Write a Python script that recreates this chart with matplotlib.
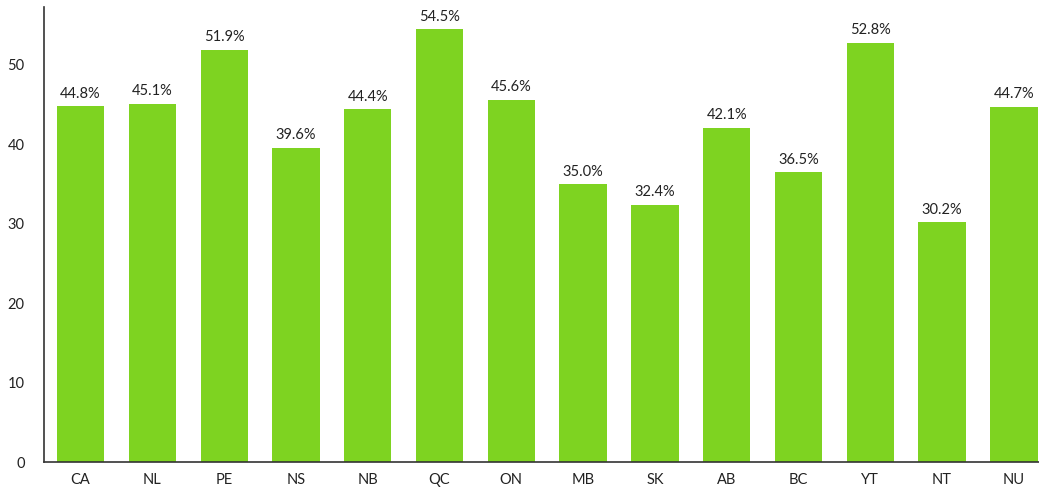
import matplotlib
matplotlib.use("Agg")
import matplotlib.pyplot as plt

categories = ["CA", "NL", "PE", "NS", "NB", "QC", "ON", "MB", "SK", "AB", "BC", "YT", "NT", "NU"]
values = [44.8, 45.1, 51.9, 39.6, 44.4, 54.5, 45.6, 35.0, 32.4, 42.1, 36.5, 52.8, 30.2, 44.7]
yticks = [0, 10, 20, 30, 40, 50]

plt.rcParams['font.family'] = ['Lato', 'DejaVu Sans']

W, H = 1039, 491
fig = plt.figure(figsize=(W/100, H/100), dpi=100)
ax = fig.add_axes([44/W, (H-462)/H, (W-44)/W, (462-7)/H])

x = range(len(categories))
bars = ax.bar(x, values, width=0.66, color="#7ED321")
for xi, v in zip(x, values):
    ax.text(xi, v + 0.7, f"{v:.1f}%", ha="center", va="bottom", fontsize=10.5, color="#222222")

ax.set_xlim(-0.51, 13.35)
ax.set_ylim(0, 57.3)
ax.set_xticks(list(x))
ax.set_xticklabels(categories, fontsize=10.5, color="#222222")
ax.set_yticks(yticks)
ax.set_yticklabels([str(t) for t in yticks], fontsize=10.5, color="#222222")
ax.tick_params(length=0, pad=8)
ax.tick_params(axis='y', pad=14)
for s in ["top", "right"]:
    ax.spines[s].set_visible(False)
for s in ["left", "bottom"]:
    ax.spines[s].set_color("#333333")
    ax.spines[s].set_linewidth(1.2)

fig.savefig("out.png", dpi=100)
